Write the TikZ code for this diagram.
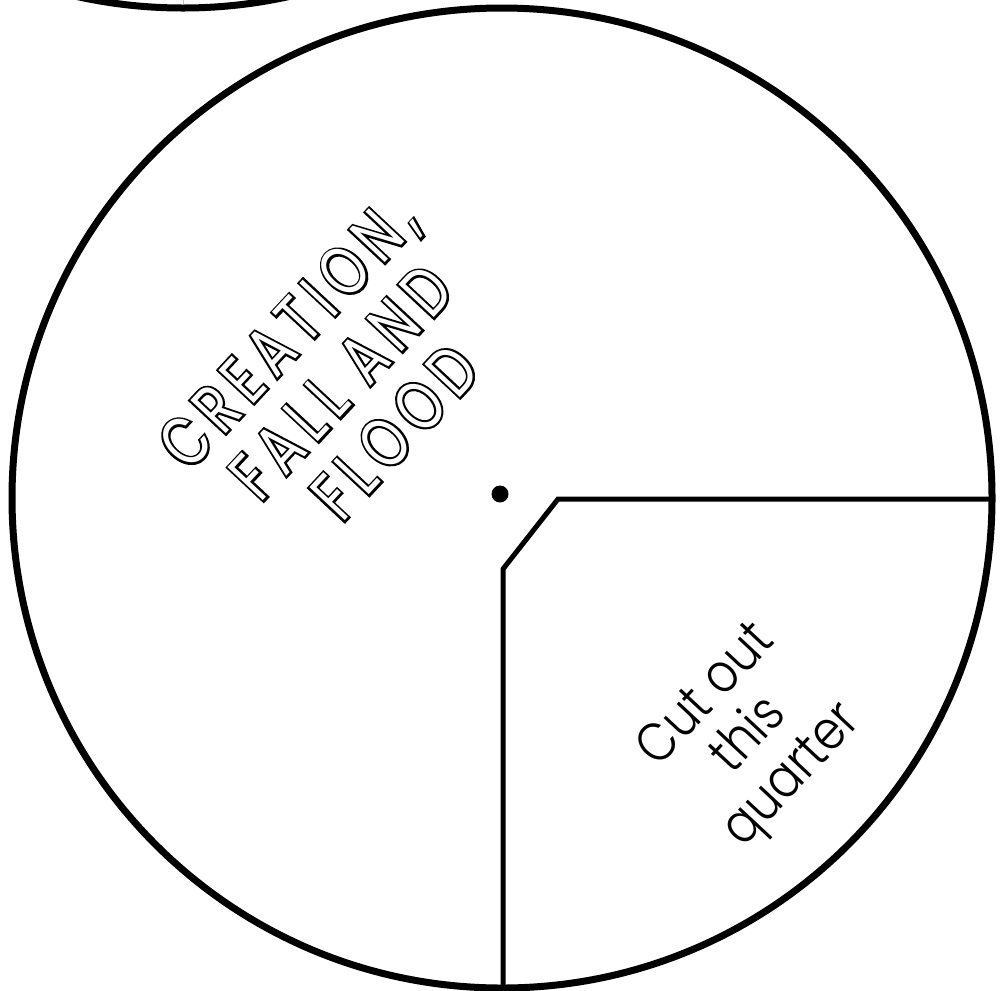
\documentclass[tikz,border=0pt]{standalone}
\usepackage{fontspec}
\setmainfont{Poppins}
\newfontfamily\titleblack[FakeStretch=0.75,LetterSpace=14,FakeBold=6]{Poppins}
\newfontfamily\titlewhite[FakeStretch=0.75,LetterSpace=14]{Poppins}
\newfontfamily\thinfont[FakeStretch=0.86]{Poppins Light}
\tikzset{
  rim/.style={line width=5.25pt},
  cutline/.style={line width=3.75pt, line join=miter},
  title/.style={rotate=47, align=center, inner sep=0pt},
  titleink/.style={title, text=black, font=\titleblack\fontsize{52}{55}\selectfont},
  titlepaper/.style={title, text=white, font=\titlewhite\fontsize{52}{55}\selectfont},
  note/.style={rotate=47, align=center, font=\thinfont\fontsize{41}{44}\selectfont, inner sep=0pt},
}
\begin{document}
\begin{tikzpicture}[x=0.75pt,y=-0.75pt]
\useasboundingbox (0,0) rectangle (1005,990);
\begin{scope}
\clip (0,0) rectangle (1005,990);
% upper neighbouring disc
\draw[gray!50, line width=0.6pt] (183,-482) -- (183,7);
\draw[rim] (183,-482) circle[radius=490];
% main disc
\draw[rim] (502,498) circle[radius=490];
\coordinate (rimE) at (992,499);
\coordinate (corner) at (558,499);
\coordinate (bend) at (503,569);
\coordinate (rimS) at (503,992);
\draw[cutline] (rimE) -- (corner) -- (bend) -- (rimS);
\end{scope}
\node[circle, fill=black, inner sep=0pt, minimum size=12.75pt] (pivot) at (500,494) {};
\node[titleink] (nameink) at (341,382) {CREATION,\\FALL AND\\FLOOD};
\node[titlepaper] (name) at (nameink.center) {CREATION,\\FALL AND\\FLOOD};
\node[note] (cut) at (751,737) {Cut out\\this\\quarter};
\end{tikzpicture}
\end{document}
